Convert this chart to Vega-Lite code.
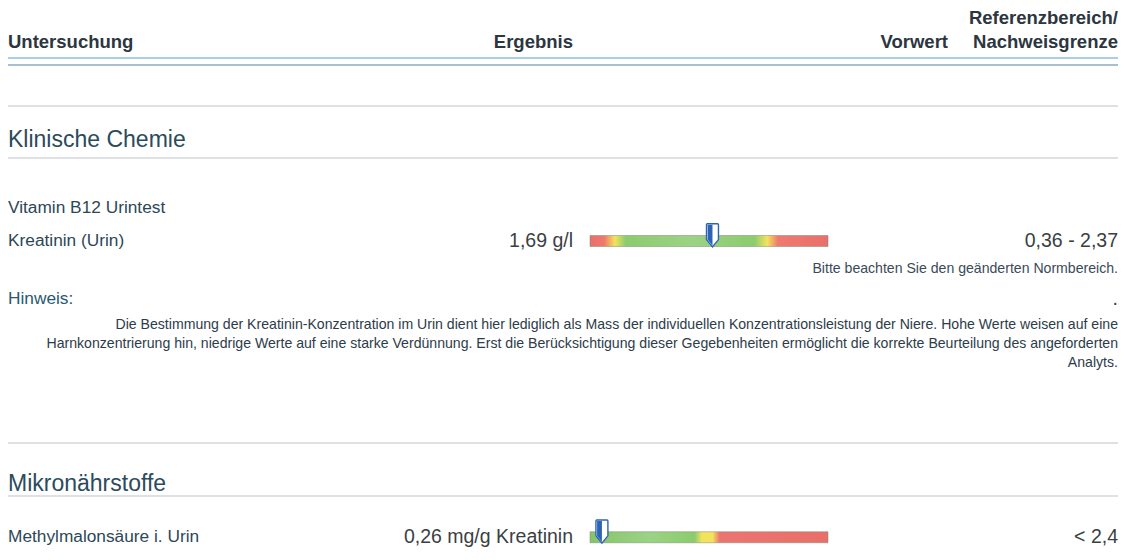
{
  "$schema": "https://vega.github.io/schema/vega-lite/v6.json",
  "width": 1128,
  "height": 560,
  "padding": 0,
  "autosize": {"type": "none"},
  "background": "white",
  "config": {
    "view": {"stroke": null},
    "axis": {"disable": true},
    "legend": {"disable": true},
    "text": {"font": "Liberation Sans", "baseline": "middle"}
  },
  "datasets": {
    "texts": [
      {"line": 0, "col": 3, "role": "header", "text": "Referenzbereich/"},
      {"line": 1, "col": 0, "role": "header", "text": "Untersuchung"},
      {"line": 1, "col": 1, "role": "header", "text": "Ergebnis"},
      {"line": 1, "col": 2, "role": "header", "text": "Vorwert"},
      {"line": 1, "col": 3, "role": "header", "text": "Nachweisgrenze"},
      {"line": 5, "col": 0, "role": "section", "text": "Klinische Chemie"},
      {"line": 7, "col": 0, "role": "label", "text": "Vitamin B12 Urintest"},
      {"line": 8, "col": 0, "role": "label", "text": "Kreatinin (Urin)"},
      {"line": 8, "col": 1, "role": "value", "text": "1,69 g/l"},
      {"line": 8, "col": 3, "role": "value", "text": "0,36 - 2,37"},
      {"line": 9, "col": 3, "role": "note", "text": "Bitte beachten Sie den geänderten Normbereich."},
      {"line": 10, "col": 0, "role": "hinweis", "text": "Hinweis:"},
      {"line": 10, "col": 3, "role": "value", "text": "."},
      {"line": 11, "col": 3, "role": "para", "text": "Die Bestimmung der Kreatinin-Konzentration im Urin dient hier lediglich als Mass der individuellen Konzentrationsleistung der Niere. Hohe Werte weisen auf eine"},
      {"line": 12, "col": 3, "role": "para", "text": "Harnkonzentrierung hin, niedrige Werte auf eine starke Verdünnung. Erst die Berücksichtigung dieser Gegebenheiten ermöglicht die korrekte Beurteilung des angeforderten"},
      {"line": 13, "col": 3, "role": "para", "text": "Analyts."},
      {"line": 15, "col": 0, "role": "section", "text": "Mikronährstoffe"},
      {"line": 17, "col": 0, "role": "label", "text": "Methylmalonsäure i. Urin"},
      {"line": 17, "col": 1, "role": "value", "text": "0,26 mg/g Kreatinin"},
      {"line": 17, "col": 3, "role": "value", "text": "< 2,4"}
    ],
    "rules": [
      {"line": 2, "role": "blue1"},
      {"line": 3, "role": "blue2"},
      {"line": 4, "role": "gray"},
      {"line": 6, "role": "gray"},
      {"line": 14, "role": "gray"},
      {"line": 16, "role": "gray"}
    ],
    "gauges": [
      {"test": "Kreatinin (Urin)", "line": 8, "value": 1.69, "ref_low": 0.36, "ref_high": 2.37},
      {"test": "Methylmalonsäure i. Urin", "line": 17, "value": 0.26, "ref_high": 2.4}
    ]
  },
  "layer": [
    {
      "data": {"name": "rules"},
      "mark": {"type": "rule", "strokeWidth": 1.3},
      "encoding": {
        "y": {"field": "line", "type": "quantitative", "scale": {"domain": [0,1,2,3,4,5,6,7,8,9,10,11,12,13,14,15,16,17], "range": [14,42,58,65,106,140,158,208,241,269,299,325,344,363,443,484,496,544], "nice": false, "zero": false}},
        "x": {"datum": 0, "type": "quantitative", "scale": {"domain": [0,1,2,3], "range": [8,573,948,1118], "nice": false, "zero": false}},
        "x2": {"datum": 3},
        "color": {"field": "role", "type": "nominal", "scale": {"domain": ["header","section","label","hinweis","value","note","para","blue1","blue2","gray"], "range": ["#2c3640","#2b4b5c","#2c4757","#2a5870","#3a3f44","#3b4a58","#2d3c4a","#8dc0e4","#8aa9c6","#d3d6da"]}}
      }
    },
    {
      "data": {"name": "texts"},
      "encoding": {
        "y": {"field": "line", "type": "quantitative", "scale": {"domain": [0,1,2,3,4,5,6,7,8,9,10,11,12,13,14,15,16,17], "range": [14,42,58,65,106,140,158,208,241,269,299,325,344,363,443,484,496,544], "nice": false, "zero": false}},
        "x": {"field": "col", "type": "quantitative", "scale": {"domain": [0,1,2,3], "range": [8,573,948,1118], "nice": false, "zero": false}},
        "text": {"field": "text"},
        "color": {"field": "role", "type": "nominal", "scale": {"domain": ["header","section","label","hinweis","value","note","para","blue1","blue2","gray"], "range": ["#2c3640","#2b4b5c","#2c4757","#2a5870","#3a3f44","#3b4a58","#2d3c4a","#8dc0e4","#8aa9c6","#d3d6da"]}}
      },
      "layer": [
        {
          "transform": [{"filter": "datum.role === 'header' && datum.col === 0"}],
          "mark": {"type": "text", "align": "left", "fontWeight": "bold", "fontSize": 18.5}
        },
        {
          "transform": [{"filter": "datum.role === 'header' && datum.col > 0"}],
          "mark": {"type": "text", "align": "right", "fontWeight": "bold", "fontSize": 18.5}
        },
        {
          "transform": [{"filter": "datum.role === 'section'"}],
          "mark": {"type": "text", "align": "left", "fontSize": 23}
        },
        {
          "transform": [{"filter": "(datum.role === 'label' || datum.role === 'hinweis') && datum.col === 0"}],
          "mark": {"type": "text", "align": "left", "fontSize": 17.3}
        },
        {
          "transform": [{"filter": "datum.role === 'value' && datum.col > 0"}],
          "mark": {"type": "text", "align": "right", "fontSize": 19.5}
        },
        {
          "transform": [{"filter": "(datum.role === 'note' || datum.role === 'para') && datum.col > 0"}],
          "mark": {"type": "text", "align": "right", "fontSize": 14.1}
        }
      ]
    },
    {
      "data": {"name": "gauges"},
      "transform": [{"filter": "datum.test === 'Kreatinin (Urin)'"}],
      "encoding": {
        "y": {"field": "line", "type": "quantitative", "scale": {"domain": [0,1,2,3,4,5,6,7,8,9,10,11,12,13,14,15,16,17], "range": [14,42,58,65,106,140,158,208,241,269,299,325,344,363,443,484,496,544], "nice": false, "zero": false}}
      },
      "layer": [
        {
          "mark": {"type": "bar", "orient": "horizontal", "size": 11, "stroke": "#7a8a70", "strokeWidth": 0.5,
            "color": {"gradient": "linear", "x1": 0, "x2": 1, "y1": 0, "y2": 0, "stops": [
              {"offset": 0, "color": "#ea6f6b"},
              {"offset": 0.06, "color": "#ee7a6c"},
              {"offset": 0.105, "color": "#f3e35c"},
              {"offset": 0.15, "color": "#8ccb6e"},
              {"offset": 0.42, "color": "#9bd384"},
              {"offset": 0.69, "color": "#8ccb6e"},
              {"offset": 0.745, "color": "#f3e35c"},
              {"offset": 0.79, "color": "#ee7a70"},
              {"offset": 1, "color": "#ea6f6b"}
            ]}},
          "encoding": {
            "x": {"datum": -0.07, "type": "quantitative", "scale": {"domain": [-0.07, 3.35], "range": [590, 828], "nice": false, "zero": false}},
            "x2": {"datum": 3.35}
          }
        },
        {
          "mark": {"type": "point", "shape": "M-0.45,-1.5 L0.45,-1.5 Q0.52,-1.5 0.52,-1.42 L0.52,-0.12 L0,0.52 L-0.52,-0.12 L-0.52,-1.42 Q-0.52,-1.5 -0.45,-1.5 Z", "size": 529, "filled": true, "fill": "white", "stroke": "#2d63b5", "strokeWidth": 1.4, "opacity": 1},
          "encoding": {"x": {"field": "value", "type": "quantitative"}}
        },
        {
          "mark": {"type": "point", "shape": "M-0.42,-1.42 L0.0,-1.42 L0.0,0.42 L-0.42,-0.12 Z", "size": 529, "filled": true, "fill": "#2d63b5", "strokeWidth": 0, "opacity": 1},
          "encoding": {"x": {"field": "value", "type": "quantitative"}}
        }
      ]
    },
    {
      "data": {"name": "gauges"},
      "transform": [{"filter": "datum.test === 'Methylmalonsäure i. Urin'"}],
      "encoding": {
        "y": {"field": "line", "type": "quantitative", "scale": {"domain": [0,1,2,3,4,5,6,7,8,9,10,11,12,13,14,15,16,17], "range": [14,42,58,65,106,140,158,208,241,269,299,325,344,363,443,484,496,544], "nice": false, "zero": false}}
      },
      "layer": [
        {
          "mark": {"type": "bar", "orient": "horizontal", "size": 11, "stroke": "#7a8a70", "strokeWidth": 0.5,
            "color": {"gradient": "linear", "x1": 0, "x2": 1, "y1": 0, "y2": 0, "stops": [
              {"offset": 0, "color": "#86c46a"},
              {"offset": 0.25, "color": "#9bd384"},
              {"offset": 0.44, "color": "#8ccb6e"},
              {"offset": 0.47, "color": "#f3e35c"},
              {"offset": 0.515, "color": "#f3e35c"},
              {"offset": 0.545, "color": "#ec7470"},
              {"offset": 1, "color": "#ea6f6b"}
            ]}},
          "encoding": {
            "x": {"datum": 0, "type": "quantitative", "scale": {"domain": [0, 5.19], "range": [590, 828], "nice": false, "zero": false}},
            "x2": {"datum": 5.19}
          }
        },
        {
          "mark": {"type": "point", "shape": "M-0.45,-1.5 L0.45,-1.5 Q0.52,-1.5 0.52,-1.42 L0.52,-0.12 L0,0.52 L-0.52,-0.12 L-0.52,-1.42 Q-0.52,-1.5 -0.45,-1.5 Z", "size": 529, "filled": true, "fill": "white", "stroke": "#2d63b5", "strokeWidth": 1.4, "opacity": 1},
          "encoding": {"x": {"field": "value", "type": "quantitative"}}
        },
        {
          "mark": {"type": "point", "shape": "M-0.42,-1.42 L0.0,-1.42 L0.0,0.42 L-0.42,-0.12 Z", "size": 529, "filled": true, "fill": "#2d63b5", "strokeWidth": 0, "opacity": 1},
          "encoding": {"x": {"field": "value", "type": "quantitative"}}
        }
      ]
    }
  ],
  "resolve": {"scale": {"x": "independent"}}
}
